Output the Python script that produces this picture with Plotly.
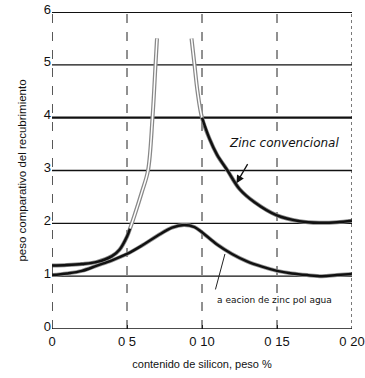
import plotly.graph_objects as go

# Data
x_upper_left = [0.0, 0.01, 0.02, 0.03, 0.04, 0.045, 0.05, 0.052]
y_upper_left = [1.2, 1.21, 1.23, 1.27, 1.38, 1.5, 1.75, 1.9]
x_upper_peak_l = [0.05, 0.052, 0.055, 0.06, 0.064, 0.067, 0.069, 0.070]
y_upper_peak_l = [1.75, 1.9, 2.15, 2.6, 3.0, 4.0, 5.0, 5.5]
x_upper_peak_r = [0.093, 0.095, 0.097, 0.100, 0.105]
y_upper_peak_r = [5.5, 5.0, 4.5, 4.0, 3.6]
x_upper_right = [0.100, 0.105, 0.11, 0.117, 0.125, 0.135, 0.15, 0.165, 0.178, 0.19, 0.20]
y_upper_right = [4.0, 3.6, 3.3, 3.0, 2.65, 2.4, 2.15, 2.04, 2.01, 2.02, 2.05]

x_lower = [0.0, 0.01, 0.02, 0.03, 0.04, 0.05, 0.06, 0.07, 0.08, 0.088, 0.095, 0.10, 0.11,
           0.12, 0.13, 0.14, 0.15, 0.16, 0.17, 0.18, 0.19, 0.20]
y_lower = [1.02, 1.05, 1.1, 1.2, 1.3, 1.42, 1.58, 1.76, 1.92, 1.97, 1.93, 1.83, 1.6,
           1.42, 1.28, 1.18, 1.1, 1.05, 1.02, 1.0, 1.02, 1.04]

x_tickvals = [0, 0.05, 0.10, 0.15, 0.20]
x_ticktext = ["0", "0 5", "0 10", "0 15", "0 20"]
y_tickvals = [0, 1, 2, 3, 4, 5, 6]

label_upper = "Zinc convencional"
label_lower = "a eacion de zinc pol agua"

fig = go.Figure()

def add(x, y, color, width, dash="solid"):
    fig.add_trace(go.Scatter(x=x, y=y, mode="lines", line=dict(color=color, width=width, dash=dash, shape="spline"),
                             hoverinfo="skip", showlegend=False))

# gray outlines
add(x_upper_left + x_upper_peak_l[2:], y_upper_left + y_upper_peak_l[2:], "#888", 4)
add(x_upper_peak_r + x_upper_right[2:], y_upper_peak_r + y_upper_right[2:], "#888", 4)
add(x_lower, y_lower, "#999", 4)
# inner lines
add(x_upper_peak_l, y_upper_peak_l, "#fff", 1.5)
add(x_upper_peak_r, y_upper_peak_r, "#fff", 1.5)
add(x_upper_left, y_upper_left, "#111", 2.5)
add(x_upper_right, y_upper_right, "#111", 2.5)
add(x_lower, y_lower, "#111", 2.5)

shapes = []
# horizontal grid lines
for v, w in [(1, 1.3), (2, 1.3), (3, 1.6), (4, 2.2), (5, 1.3), (6, 2.2)]:
    shapes.append(dict(type="line", xref="x", yref="y", x0=0, x1=0.2, y0=v, y1=v,
                       line=dict(color="#111", width=w), layer="below"))
# vertical dashed grid lines
for v in [0.05, 0.10, 0.15]:
    shapes.append(dict(type="line", xref="x", yref="y", x0=v, x1=v, y0=0, y1=6,
                       line=dict(color="#222", width=1, dash="dash"), layer="below"))
# borders
shapes.append(dict(type="line", xref="x", yref="y", x0=0.2, x1=0.2, y0=0, y1=6,
                   line=dict(color="#222", width=1.2, dash="dot")))
shapes.append(dict(type="line", xref="x", yref="y", x0=0, x1=0, y0=0, y1=6,
                   line=dict(color="#222", width=1.5, dash="dash")))
shapes.append(dict(type="line", xref="x", yref="y", x0=0, x1=0.2, y0=0, y1=0,
                   line=dict(color="#111", width=1.6)))

fig.update_layout(
    width=365, height=378,
    margin=dict(l=52, r=13, t=12, b=49),
    paper_bgcolor="white", plot_bgcolor="white",
    font=dict(family="Liberation Sans", color="#111"),
    shapes=shapes,
    xaxis=dict(range=[0, 0.2], tickvals=x_tickvals, ticktext=x_ticktext, showgrid=False, zeroline=False,
               showline=False, ticks="inside", ticklen=4, tickcolor="#222", tickfont=dict(size=13),
               automargin=False, ticklabelstandoff=3,
               title=dict(text="contenido de silicon, peso %", font=dict(size=11), standoff=12)),
    yaxis=dict(range=[0, 6], tickvals=y_tickvals, showgrid=False, zeroline=False, showline=False,
               ticks="", tickfont=dict(size=13), automargin=False, ticklabelshift=-3,
               title=dict(text="peso comparativo del recubrimiento", font=dict(size=11.5), standoff=14)),
    annotations=[
        dict(x=0.1167, y=3.52, xref="x", yref="y", text=label_upper, showarrow=False, xanchor="left",
             yanchor="middle", font=dict(size=12, family="DejaVu Sans", color="#111", style="italic"),
             bgcolor="white"),
        dict(x=0.123, y=2.76, xref="x", yref="y", ax=0.131, ay=3.15, axref="x", ayref="y", text="",
             showarrow=True, arrowhead=2, arrowsize=1.2, arrowwidth=1.3, arrowcolor="#111"),
        dict(x=0.1087, y=0.55, xref="x", yref="y", text=label_lower, showarrow=False, xanchor="left",
             yanchor="middle", font=dict(size=9, family="DejaVu Sans", color="#111"), bgcolor="white"),
        dict(x=0.1153, y=1.42, xref="x", yref="y", ax=0.1087, ay=0.72, axref="x", ayref="y", text="",
             showarrow=True, arrowhead=0, arrowwidth=1, arrowcolor="#222"),
    ],
)

fig.write_html("out.html")
